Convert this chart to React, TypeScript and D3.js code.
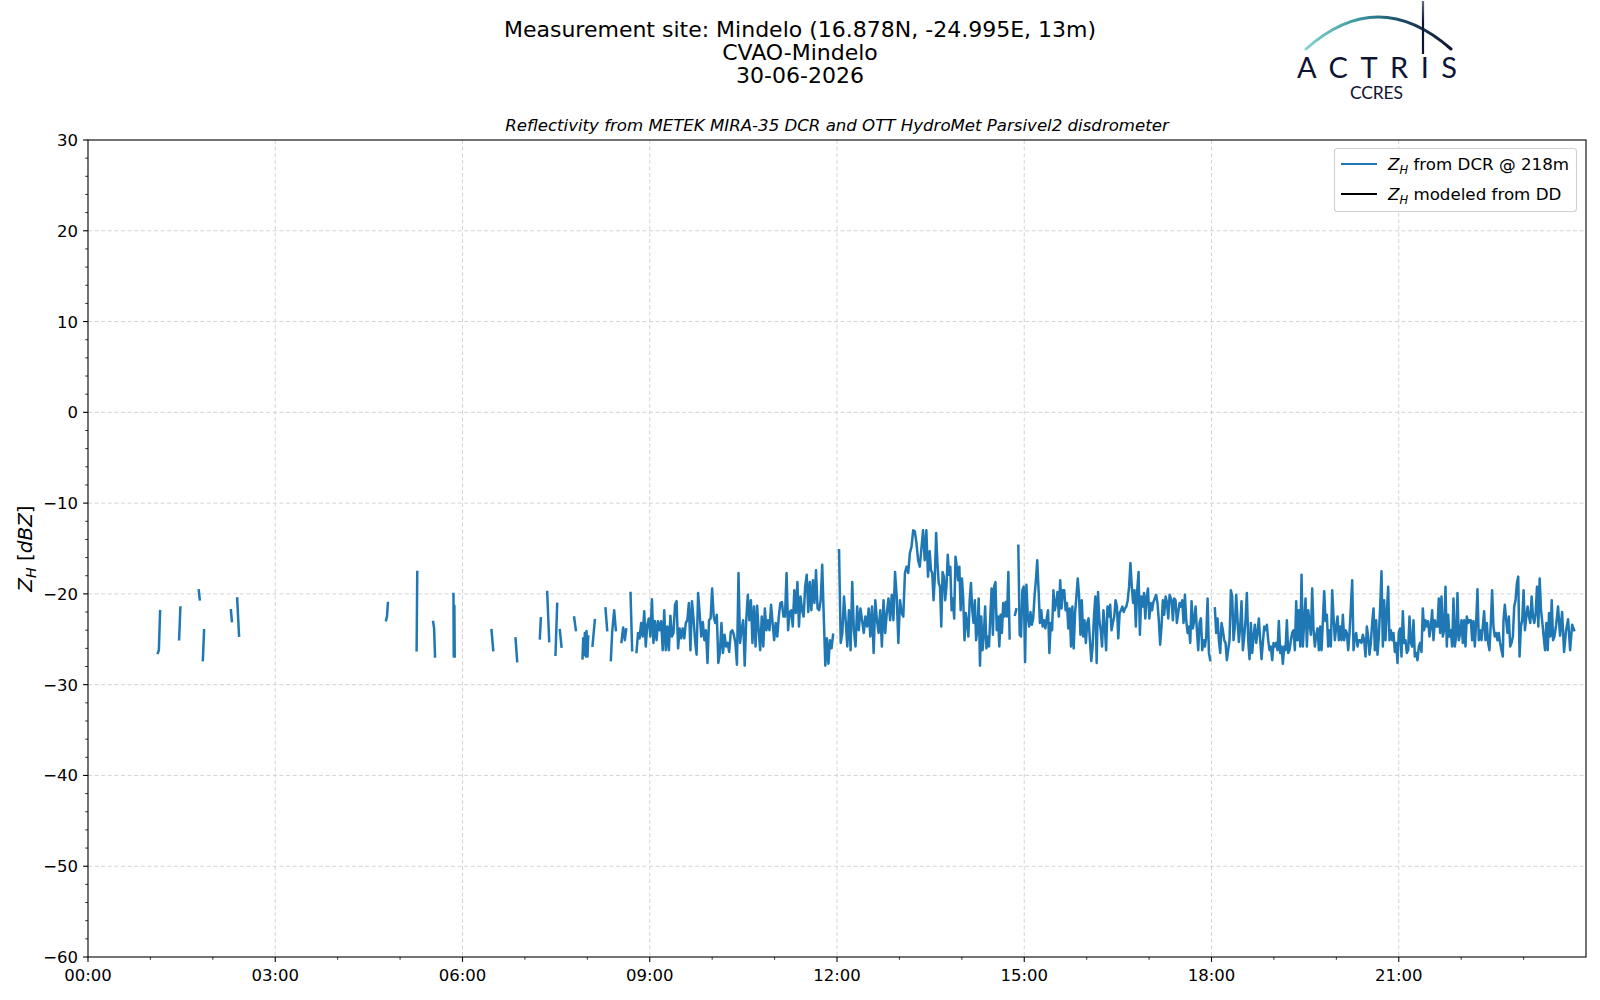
import React from 'react';
import * as d3 from 'd3';

// figure geometry (px)
const W = 1600;
const H = 1000;
const plot = { left: 88, right: 1586, top: 140, bottom: 957 };

const titleLines = [
    'Measurement site: Mindelo (16.878N, -24.995E, 13m)',
    'CVAO-Mindelo',
    '30-06-2026',
];
const subtitle = 'Reflectivity from METEK MIRA-35 DCR and OTT HydroMet Parsivel2 disdrometer';

const xTickHours = [0, 3, 6, 9, 12, 15, 18, 21];
const xTickLabels = ['00:00', '03:00', '06:00', '09:00', '12:00', '15:00', '18:00', '21:00'];
const yTicks = [30, 20, 10, 0, -10, -20, -30, -40, -50, -60];

// isolated short echoes before 08:45 (hour of day, dBZ), NaN = gap
const sparseHours = [
    1.12, 1.135, 1.155, NaN, 1.46, 1.48, NaN, 1.775, 1.79, NaN, 1.84, 1.86, NaN,
    2.29, 2.305, NaN, 2.39, 2.42, NaN, 4.775, 4.79, 4.805, NaN, 5.265, 5.275, NaN,
    5.53, 5.545, 5.56, NaN, 5.855, 5.86, 5.87, 5.875, NaN, 6.465, 6.492, NaN,
    6.85, 6.876, NaN, 7.239, 7.255, NaN, 7.357, 7.389, NaN, 7.49, 7.517, NaN,
    7.56, 7.586, NaN, 7.789, 7.816, NaN,
    7.923, 7.934, 7.95, 7.96, 7.976, 7.987, 8.003, 8.014, NaN,
    8.083, 8.12, NaN, 8.291, 8.318, NaN, 8.377, 8.398, 8.43, 8.457, NaN,
    8.547, 8.574, 8.601, 8.622, NaN, 8.692, 8.718,
];
const sparseDbz = [
    -26.5, -26.2, -21.9, NaN, -25.0, -21.5, NaN, -19.6, -20.6, NaN, -27.3, -24.0, NaN,
    -21.8, -23.0, NaN, -20.5, -24.6, NaN, -22.9, -22.5, -21.0, NaN, -26.2, -17.6, NaN,
    -23.1, -23.8, -26.9, NaN, -20.0, -26.9, -21.3, -26.9, NaN, -24.0, -26.2, NaN,
    -24.9, -27.4, NaN, -24.9, -22.7, NaN, -19.8, -25.2, NaN, -26.7, -21.1, NaN,
    -24.0, -25.8, NaN, -22.6, -24.0, NaN,
    -27.1, -24.9, -26.7, -24.3, -26.9, -24.1, -26.9, -24.7, NaN,
    -25.7, -22.9, NaN, -21.6, -24.0, NaN, -27.3, -24.2, -21.8, -24.0, NaN,
    -25.3, -23.7, -25.1, -23.9, NaN, -19.9, -26.2,
];

// continuous runs of samples (dBZ), spread evenly between their start and end hours
const run0847 = [
    -26.4, -24.3, -24.9, -23.2, -24.7, -21.9, -25.8, -23.4, -22.7, -24.7, -20.6, -25.4, -23.0, -25.1,
    -23.0, -24.0, -23.0, -26.2, -21.8, -26.2, -23.6, -26.2, -22.4, -24.7, -24.3, -21.2, -20.8, -26.0,
    -23.8, -24.9, -23.8, -24.9, -23.2, -22.9, -21.0, -26.2, -20.8, -22.7, -25.1, -26.7, -19.9,
];
const run0948 = [
    -22.3, -24.7, -23.1, -25.1, -24.0, -27.6, -22.9, -22.7, -19.4, -22.5, -23.2, -22.3, -27.6, -26.5,
    -23.2, -26.5, -24.5, -25.8, -25.4, -26.4, -24.2, -24.0, -24.5, -25.4, -27.8, -17.7, -25.4, -24.0,
    -22.9, -27.9, -22.9, -20.1, -22.9, -20.7, -25.4, -21.4, -25.8, -21.3, -24.0, -26.2, -22.5, -25.8,
    -21.6, -24.0, -22.9, -24.0, -21.2, -23.2, -25.1, -23.2, -24.7, -22.5, -21.0, -20.9, -22.5, -22.5,
    -17.7, -24.0, -22.0, -21.8, -23.6, -19.6, -22.1, -18.7, -23.6, -20.3, -21.8, -22.5, -19.2, -17.9,
    -22.0, -18.7, -21.8, -18.5, -21.0, -17.4, -21.6, -21.8, -20.7, -16.8, -22.5, -27.9, -24.9, -27.7,
    -25.1, -26.0, -24.5,
];
const run1202 = [
    -15.2, -25.4, -24.3, -20.3, -22.9, -25.8, -21.8, -26.2, -18.7, -24.0, -25.8, -21.4, -24.0, -21.6,
    -22.9, -24.3, -22.5, -23.6, -21.6, -24.7, -21.4, -26.5, -20.7, -22.9, -24.3, -21.8, -25.8, -20.7,
    -24.3, -22.1, -20.5, -22.9, -20.1, -22.9, -17.6, -20.3, -25.4, -20.7, -22.1, -22.5, -17.7, -17.0,
    -17.7, -15.5, -14.8, -13.0, -13.1, -14.4, -16.3, -17.0, -15.0, -13.0, -16.3, -13.0, -18.1,
];
const run1329 = [
    -15.3, -17.4, -17.7, -20.7, -18.1, -13.3, -16.6, -18.8, -19.2, -23.6, -17.6, -18.1, -20.7, -19.2,
    -15.7, -17.9, -17.0, -21.8, -20.5, -22.7, -15.9, -17.0, -18.5, -17.0, -21.8, -18.3, -20.5, -25.1,
    -22.1, -23.2, -24.7, -20.7, -18.8, -21.8, -23.2, -20.7, -25.1, -24.0, -20.5, -27.9, -22.5, -26.2,
    -24.5, -21.4, -26.0, -24.7, -25.8, -22.5, -19.4, -24.5, -19.2, -18.7, -24.0, -22.5, -25.8, -22.3,
    -24.3, -21.0, -22.5, -20.9, -22.5, -17.6, -24.9,
];
const run1451 = [-22.3, -21.7];
const run1454 = [
    -14.7, -24.5, -24.7, -19.6, -19.2, -27.5, -19.0, -22.5, -23.6, -22.0, -23.4, -22.7, -20.3, -18.5,
    -16.3, -19.6, -23.2, -21.8, -23.6, -22.9, -23.8, -22.7, -21.8, -26.5, -23.2, -24.0, -19.6, -21.8,
    -21.0, -19.8, -22.5, -18.5, -21.6, -19.6, -19.6, -21.8, -21.0, -23.8, -21.6, -25.8, -21.4, -26.0,
    -22.1, -20.3, -18.3, -20.3, -24.5, -20.7, -24.7, -22.9, -25.4, -23.2, -22.7, -25.1, -27.4, -25.8,
    -22.5, -20.3, -27.6, -19.8, -22.9, -24.0, -25.8, -21.8, -23.6, -26.2, -21.4, -22.5, -21.2, -24.0,
    -23.2, -22.5, -20.7, -21.4, -24.9, -22.1, -21.8, -21.4, -22.0, -21.6, -21.4, -20.7, -19.2, -16.6,
    -19.2, -21.0, -19.6, -23.6, -19.6, -17.6, -24.5, -20.3, -21.4, -19.9, -22.7, -20.3, -19.4, -22.7,
    -21.0, -21.8, -20.9, -20.5, -20.1, -21.0, -22.9, -25.6, -23.6, -20.7, -22.3, -20.3, -20.9, -22.7,
    -20.1,
];
const run1722 = [
    -20.7, -22.9, -20.5, -20.7, -23.2, -22.1, -21.0, -21.4, -20.7, -23.2, -20.1, -22.9, -24.3, -23.6,
    -25.4, -20.8, -23.8, -22.9, -21.4, -24.0, -26.2, -23.2, -22.7, -26.2, -25.1, -25.8, -24.7, -20.5,
    -26.5, -27.3,
];
const run1803 = [
    -21.6, -24.3, -22.7, -25.1, -26.5, -23.2, -24.0, -25.1, -25.4, -27.3, -26.2, -25.1, -19.6, -20.3,
    -25.1, -23.6, -20.1, -22.9, -25.3, -23.6, -20.8, -26.2, -24.7, -22.9, -19.9, -25.1, -27.2, -23.2,
    -26.5, -24.7, -23.4, -25.4, -24.2, -22.7, -25.1, -27.2, -25.4, -23.6, -24.0, -23.4, -25.1, -26.2,
    -25.8, -27.3, -25.4, -25.8, -25.4, -26.2, -23.0, -26.5, -25.8, -27.7, -25.8, -26.2, -22.9, -26.5,
    -26.2, -25.1, -24.3, -24.0, -26.2, -20.8, -25.1, -21.8, -25.8, -17.9, -25.8, -23.0, -20.5, -25.8,
    -21.8, -23.2, -24.5, -19.4, -24.0, -25.8, -24.5, -23.8, -26.2, -23.6, -26.2, -23.0, -19.7, -23.0,
    -22.3, -25.8, -24.0, -25.8, -19.6, -22.5, -25.1, -23.6, -22.5, -25.1, -23.6, -25.1, -22.3, -25.1,
    -24.0, -24.3, -26.2, -24.3, -21.4, -18.5, -26.2, -24.7, -24.3, -25.8, -25.1,
];
const run2023 = [
    -25.1, -25.4, -24.5, -25.1, -26.9, -23.6, -24.7, -26.7, -25.4, -23.2, -21.6, -26.2, -22.9, -26.7,
    -24.7, -21.4, -17.5, -25.8, -20.7, -25.1, -22.1, -19.2, -25.1, -24.0, -25.1, -24.3, -26.4, -25.4,
    -27.6, -24.2, -23.8, -26.9, -21.9, -25.4, -25.1, -26.5, -26.2, -22.5, -25.4, -25.8, -22.9, -26.9,
    -26.5, -27.3, -25.8, -25.4, -26.4, -21.6, -24.0, -22.9, -23.6, -23.0, -24.7, -23.6, -21.8, -25.1,
    -22.9, -23.6, -23.6, -20.5, -24.3, -20.3, -24.7, -24.0, -19.2, -25.8, -22.3, -24.7, -24.0, -25.8,
    -20.5, -25.8, -24.7, -19.9, -25.1, -24.3, -22.9, -25.4, -22.9, -25.8, -22.5, -23.2, -22.9, -22.9,
    -25.1, -23.0, -25.8, -23.2, -19.5, -25.1, -24.0, -25.1, -23.6, -21.9, -25.1, -23.2, -25.4, -26.2,
    -23.2, -19.6, -23.6, -24.7, -24.3, -25.1, -24.3, -25.4, -26.2, -26.9,
];
const run2241 = [
    -22.9, -21.2, -22.9, -24.3, -22.5, -25.8, -25.4, -24.7, -21.4, -20.7, -18.8, -18.1, -26.9, -23.6,
    -22.9, -19.6, -24.0, -22.5, -21.4, -22.5, -23.2, -20.3, -22.5, -23.2, -22.1, -19.2, -23.6, -18.3,
    -21.8, -23.2, -24.7, -26.2, -23.2, -26.2, -22.1, -24.7, -20.7, -25.1, -24.7,
];
const run2331 = [-23.5, -21.4, -24.6, -22.0, -26.4, -24.0, -22.8, -26.2, -23.4, -24.0];

const runValues = [run0847, run0948, run1202, run1329, run1451, run1454, run1722, run1803, run2023, run2241, run2331];
const runFrom = [8.788, 9.801, 12.033, 13.485, 14.852, 14.905, 17.36, 18.054, 20.382, 22.678, 23.52];
const runTo = [9.775, 11.937, 13.458, 14.766, 14.873, 17.329, 17.98, 20.361, 22.667, 23.494, 23.81];
const runGapBefore = [true, false, true, false, true, true, false, true, false, false, false];

interface Pt {
    h: number;
    v: number;
}

const buildSeries = (): Pt[] => {
    const pts: Pt[] = sparseHours.map((h, i) => ({ h, v: sparseDbz[i] }));
    runValues.forEach((vals, r) => {
        if (runGapBefore[r]) pts.push({ h: NaN, v: NaN });
        const t = d3.scaleLinear().domain([0, Math.max(vals.length - 1, 1)]).range([runFrom[r], runTo[r]]);
        vals.forEach((v, i) => pts.push({ h: t(i), v }));
    });
    return pts;
};

const font = '"DejaVu Sans", sans-serif';
const navy = '#0f1434';

const App: React.FC = () => {
    const x = d3.scaleLinear().domain([0, 24]).range([plot.left, plot.right]);
    const y = d3.scaleLinear().domain([-60, 30]).range([plot.bottom, plot.top]);
    const series = buildSeries();
    const line = d3
        .line<Pt>()
        .defined((d) => !isNaN(d.v) && !isNaN(d.h))
        .x((d) => x(d.h))
        .y((d) => y(d.v));

    const minorX = d3.range(1, 24).filter((h) => h % 3 !== 0);
    const minorY = d3.range(-58, 30, 2).filter((v) => v % 10 !== 0);
    const minus = (v: number) => (v < 0 ? '\u2212' + Math.abs(v) : String(v));

    return (
        <svg
            width={W}
            height={H}
            viewBox={`0 0 ${W} ${H}`}
            style={{ position: 'absolute', left: 0, top: 0, background: '#fff' }}
        >
            <defs>
                <clipPath id="plotClip">
                    <rect x={plot.left} y={plot.top} width={plot.right - plot.left} height={plot.bottom - plot.top} />
                </clipPath>
                <linearGradient id="arcGrad" gradientUnits="userSpaceOnUse" x1={1306} y1={0} x2={1452} y2={0}>
                    <stop offset="0" stopColor="#86d2cc" />
                    <stop offset="0.35" stopColor="#3b9aa3" />
                    <stop offset="0.65" stopColor="#1d4a66" />
                    <stop offset="1" stopColor={navy} />
                </linearGradient>
                <linearGradient id="mastGrad" gradientUnits="userSpaceOnUse" x1={0} y1={0} x2={0} y2={54}>
                    <stop offset="0" stopColor="#6b7088" />
                    <stop offset="0.4" stopColor={navy} />
                    <stop offset="1" stopColor={navy} />
                </linearGradient>
            </defs>

            {/* titles */}
            {titleLines.map((t, i) => (
                <text key={t} x={800} y={37 + i * 23} textAnchor="middle" fontFamily={font} fontSize={22} fill="#000">
                    {t}
                </text>
            ))}
            <text
                x={(plot.left + plot.right) / 2}
                y={131}
                textAnchor="middle"
                fontFamily={font}
                fontStyle="italic"
                fontSize={16.6}
                fill="#000"
            >
                {subtitle}
            </text>

            {/* logo */}
            <g>
                <path d="M1306,49 Q1378,-15 1451,49" fill="none" stroke="url(#arcGrad)" strokeWidth={3} strokeLinecap="round" />
                <line x1={1423} y1={1} x2={1423} y2={54} stroke="url(#mastGrad)" strokeWidth={2.2} />
                <text x={1297} y={78} fontFamily="Lato, sans-serif" fontSize={29} fill={navy} textLength={160} lengthAdjust="spacing">
                    ACTRIS
                </text>
                <text x={1350} y={99} fontFamily="Lato, sans-serif" fontSize={17.5} fill={navy} textLength={53} lengthAdjust="spacing">
                    CCRES
                </text>
            </g>

            {/* grid */}
            <g stroke="#cfcfcf" strokeWidth={0.9} strokeDasharray="4,2.6">
                {xTickHours.slice(1).map((h) => (
                    <line key={'gx' + h} x1={x(h)} x2={x(h)} y1={plot.top} y2={plot.bottom} />
                ))}
                {yTicks.slice(1, -1).map((v) => (
                    <line key={'gy' + v} x1={plot.left} x2={plot.right} y1={y(v)} y2={y(v)} />
                ))}
            </g>

            {/* data */}
            <g clipPath="url(#plotClip)">
                <path
                    d={line(series) ?? ''}
                    fill="none"
                    stroke="#1f77b4"
                    strokeWidth={2.5}
                    strokeLinejoin="round"
                    strokeLinecap="square"
                />
            </g>

            {/* frame */}
            <rect
                x={plot.left}
                y={plot.top}
                width={plot.right - plot.left}
                height={plot.bottom - plot.top}
                fill="none"
                stroke="#000"
                strokeWidth={1.1}
            />

            {/* ticks */}
            <g stroke="#000">
                {xTickHours.map((h) => (
                    <line key={'tx' + h} x1={x(h)} x2={x(h)} y1={plot.bottom} y2={plot.bottom + 4.9} strokeWidth={1.1} />
                ))}
                {minorX.map((h) => (
                    <line key={'mx' + h} x1={x(h)} x2={x(h)} y1={plot.bottom} y2={plot.bottom + 2.8} strokeWidth={0.8} />
                ))}
                {yTicks.map((v) => (
                    <line key={'ty' + v} x1={plot.left - 4.9} x2={plot.left} y1={y(v)} y2={y(v)} strokeWidth={1.1} />
                ))}
                {minorY.map((v) => (
                    <line key={'my' + v} x1={plot.left - 2.8} x2={plot.left} y1={y(v)} y2={y(v)} strokeWidth={0.8} />
                ))}
            </g>
            <g fontFamily={font} fontSize={16.5} fill="#000">
                {xTickHours.map((h, i) => (
                    <text key={'lx' + h} x={x(h)} y={981} textAnchor="middle">
                        {xTickLabels[i]}
                    </text>
                ))}
                {yTicks.map((v) => (
                    <text key={'ly' + v} x={plot.left - 10} y={y(v) + 6} textAnchor="end">
                        {minus(v)}
                    </text>
                ))}
            </g>

            {/* y label */}
            <text transform={`translate(32,${(plot.top + plot.bottom) / 2}) rotate(-90)`} textAnchor="middle" fontFamily={font} fontSize={20} fill="#000">
                <tspan fontStyle="italic">Z</tspan>
                <tspan fontStyle="italic" fontSize={14} dy={4}>H</tspan>
                <tspan dy={-4}> [</tspan>
                <tspan fontStyle="italic">dBZ</tspan>
                <tspan>]</tspan>
            </text>

            {/* legend */}
            <g>
                <rect x={1334.5} y={148.5} width={242} height={63} rx={3} fill="#fff" fillOpacity={0.8} stroke="#d0d0d0" strokeWidth={1.1} />
                <line x1={1341} x2={1377} y1={164} y2={164} stroke="#1f77b4" strokeWidth={2.1} />
                <line x1={1341} x2={1377} y1={194} y2={194} stroke="#000" strokeWidth={2.1} />
                <g fontFamily={font} fontSize={16.7} fill="#000">
                    <text x={1388} y={170}>
                        <tspan fontStyle="italic">Z</tspan>
                        <tspan fontStyle="italic" fontSize={11.5} dy={3.5}>H</tspan>
                        <tspan dy={-3.5}> from DCR @ 218m</tspan>
                    </text>
                    <text x={1388} y={200}>
                        <tspan fontStyle="italic">Z</tspan>
                        <tspan fontStyle="italic" fontSize={11.5} dy={3.5}>H</tspan>
                        <tspan dy={-3.5}> modeled from DD</tspan>
                    </text>
                </g>
            </g>
        </svg>
    );
};

export default App;
